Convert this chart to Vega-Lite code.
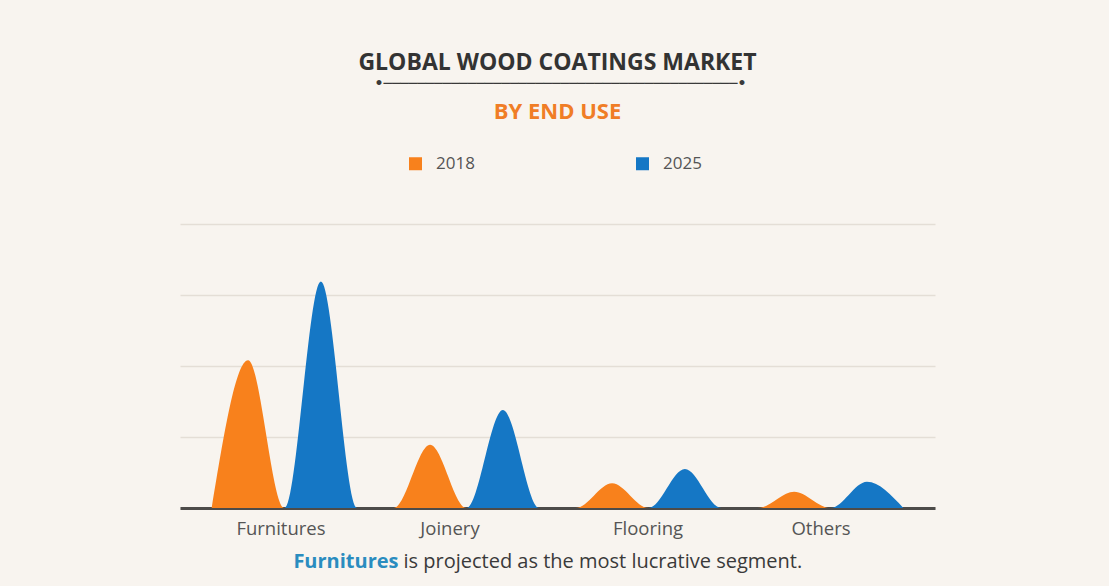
{
  "$schema": "https://vega.github.io/schema/vega-lite/v6.json",
  "width": 755,
  "height": 284,
  "autosize": {"type": "none"},
  "padding": {"left": 180, "top": 224, "right": 174, "bottom": 78},
  "background": "#f8f4ef",
  "title": {
    "text": "GLOBAL WOOD COATINGS MARKET",
    "subtitle": "BY END USE",
    "anchor": "middle",
    "frame": "group",
    "font": "Open Sans",
    "fontSize": 23,
    "fontWeight": "bold",
    "color": "#333333",
    "subtitleFont": "Open Sans",
    "subtitleFontSize": 22,
    "subtitleFontWeight": "bold",
    "subtitleColor": "#f07d26",
    "subtitlePadding": 27,
    "offset": -46
  },
  "data": {
    "values": [
      {"end_use": "Furnitures", "year": "2018", "series": "Furnitures 2018", "value": 20.8},
      {"end_use": "Furnitures", "year": "2025", "series": "Furnitures 2025", "value": 31.9},
      {"end_use": "Joinery", "year": "2018", "series": "Joinery 2018", "value": 8.9},
      {"end_use": "Joinery", "year": "2025", "series": "Joinery 2025", "value": 13.8},
      {"end_use": "Flooring", "year": "2018", "series": "Flooring 2018", "value": 3.5},
      {"end_use": "Flooring", "year": "2025", "series": "Flooring 2025", "value": 5.5},
      {"end_use": "Others", "year": "2018", "series": "Others 2018", "value": 2.3},
      {"end_use": "Others", "year": "2025", "series": "Others 2025", "value": 3.7}
    ]
  },
  "transform": [
    {
      "impute": "value",
      "key": "series",
      "keyvals": ["gap0", "Furnitures", "gap1", "gap2", "Joinery", "gap3", "gap4", "Flooring", "gap5", "gap6", "Others", "gap7"],
      "groupby": ["year"],
      "value": 0
    }
  ],
  "layer": [
    {
      "transform": [{"filter": "datum.year == '2018'"}],
      "mark": {"type": "area", "interpolate": "monotone", "opacity": 1},
      "encoding": {
        "x": {
          "field": "series",
          "type": "nominal",
          "sort": ["gap0", "Furnitures 2018", "Furnitures", "Furnitures 2025", "gap1", "gap2", "Joinery 2018", "Joinery", "Joinery 2025", "gap3", "gap4", "Flooring 2018", "Flooring", "Flooring 2025", "gap5", "gap6", "Others 2018", "Others", "Others 2025", "gap7"],
          "scale": {"type": "point", "padding": 0.87},
          "axis": {
            "orient": "bottom",
            "values": ["Furnitures", "Joinery", "Flooring", "Others"],
            "ticks": false,
            "domain": true,
            "domainColor": "#4d4b49",
            "domainWidth": 3,
            "grid": false,
            "labelAngle": 0,
            "labelFont": "Open Sans",
            "labelFontSize": 18.5,
            "labelColor": "#555555",
            "labelPadding": 11,
            "labelOffset": {
              "condition": [
                {"test": "datum.value === 'Joinery'", "value": -17},
                {"test": "datum.value === 'Others'", "value": -10},
                {"test": "datum.value === 'Flooring'", "value": -1}
              ],
              "value": -4
            },
            "title": "Furnitures",
            "titleFont": "Open Sans",
            "titleFontSize": 20,
            "titleFontWeight": "bold",
            "titleColor": "#2a8cbf",
            "titleAlign": "right",
            "titleBaseline": "alphabetic",
            "titleX": 218,
            "titleY": 59
          }
        },
        "y": {
          "field": "value",
          "type": "quantitative",
          "stack": null,
          "scale": {"domain": [0, 40], "nice": false},
          "axis": {
            "values": [0, 10, 20, 30, 40],
            "grid": true,
            "gridColor": "#e4ded6",
            "gridWidth": 1.5,
            "labels": false,
            "ticks": false,
            "domain": false,
            "title": "•──────────────────────────────────────────•",
            "titleFont": "DejaVu Sans",
            "titleFontSize": 14,
            "titleFontWeight": "bold",
            "titleColor": "#3a3a3a",
            "titleAngle": 0,
            "titleAlign": "left",
            "titleBaseline": "alphabetic",
            "titleX": 194,
            "titleY": -136.5
          }
        },
        "color": {
          "field": "year",
          "type": "nominal",
          "scale": {"domain": ["2018", "2025"], "range": ["#f8811c", "#1577c5"]},
          "legend": {
            "title": null,
            "orient": "none",
            "legendX": 227,
            "legendY": -69,
            "direction": "horizontal",
            "symbolType": "square",
            "symbolSize": 169,
            "symbolStrokeWidth": 0,
            "symbolOpacity": 1,
            "labelFont": "Open Sans",
            "labelFontSize": 17,
            "labelColor": "#555555",
            "labelOffset": 12,
            "columnPadding": 159,
            "padding": 0
          }
        }
      }
    },
    {
      "transform": [{"filter": "datum.year == '2025'"}],
      "mark": {"type": "area", "interpolate": "monotone", "opacity": 1},
      "encoding": {
        "x": {
          "field": "series",
          "type": "nominal",
          "sort": ["gap0", "Furnitures 2018", "Furnitures", "Furnitures 2025", "gap1", "gap2", "Joinery 2018", "Joinery", "Joinery 2025", "gap3", "gap4", "Flooring 2018", "Flooring", "Flooring 2025", "gap5", "gap6", "Others 2018", "Others", "Others 2025", "gap7"],
          "scale": {"type": "point", "padding": 0.87},
          "axis": {
            "orient": "bottom",
            "values": [],
            "labels": false,
            "ticks": false,
            "domain": false,
            "grid": false,
            "title": "is projected as the most lucrative segment.",
            "titleFont": "Open Sans",
            "titleFontSize": 20,
            "titleFontWeight": "normal",
            "titleColor": "#3a3a3a",
            "titleAlign": "left",
            "titleBaseline": "alphabetic",
            "titleX": 223,
            "titleY": 59
          }
        },
        "y": {
          "field": "value",
          "type": "quantitative",
          "stack": null,
          "scale": {"domain": [0, 40], "nice": false},
          "axis": {
            "values": [0, 10, 20, 30, 40],
            "grid": true,
            "gridColor": "#e4ded6",
            "gridWidth": 1.5,
            "labels": false,
            "ticks": false,
            "domain": false,
            "title": "•──────────────────────────────────────────•",
            "titleFont": "DejaVu Sans",
            "titleFontSize": 14,
            "titleFontWeight": "bold",
            "titleColor": "#3a3a3a",
            "titleAngle": 0,
            "titleAlign": "left",
            "titleBaseline": "alphabetic",
            "titleX": 194,
            "titleY": -136.5
          }
        },
        "color": {
          "field": "year",
          "type": "nominal",
          "scale": {"domain": ["2018", "2025"], "range": ["#f8811c", "#1577c5"]}
        }
      }
    }
  ],
  "resolve": {"axis": {"x": "independent"}},
  "config": {"view": {"stroke": null}}
}
